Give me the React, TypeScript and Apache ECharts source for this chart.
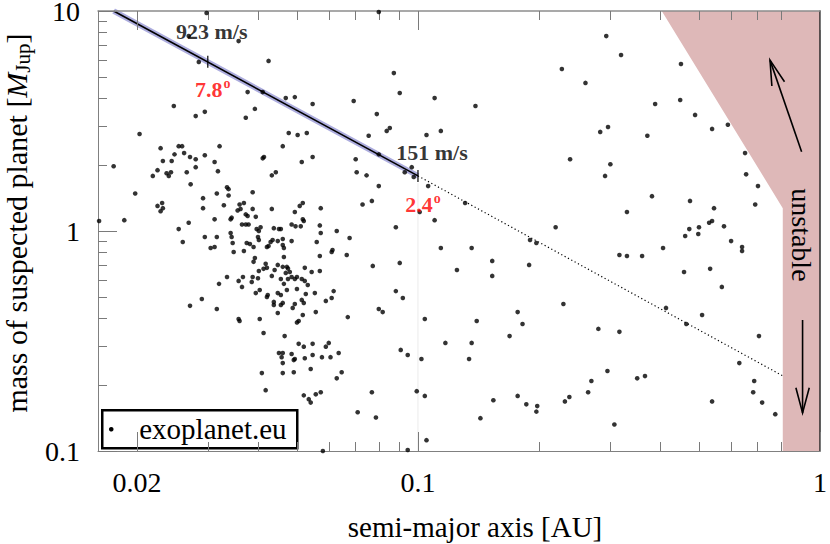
import React, { useEffect, useRef } from "react";
import * as echarts from "echarts";

const SERIF = "'Liberation Serif', 'Times New Roman', serif";

// axis ranges and ticks
const xRange = [0.016, 1];
const yRange = [0.1, 10];
const xMajorTicks = [0.02, 0.1, 1];
const xMinorTicks = [0.03, 0.04, 0.05, 0.06, 0.07, 0.08, 0.09, 0.2, 0.3, 0.4, 0.5, 0.6, 0.7, 0.8];
const yMajorTicks = [0.1, 1, 10];
const yMinorTicks = [0.2, 0.3, 0.4, 0.5, 0.6, 0.7, 0.8, 0.9, 2, 3, 4, 5, 6, 7, 8, 9];
const xTickLabels = ["0.02", "0.1", "1"];
const yTickLabels = ["0.1", "1", "10"];

// radial-velocity detection curve
const rvSolidA = [0.0175, 0.1];
const rvSolidM = [10, 1.78];
const rvDottedA = [0.1, 0.81];
const rvDottedM = [1.78, 0.219];
const rvMarkA = [0.03, 0.1];
const rvMarkM = [5.88, 1.78];
const rvVelocityLabels = ["923 m/s", "151 m/s"];
const rvAngleLabels = ["7.8", "2.4"];
const guideA = [0.1, 0.1];
const guideM = [1.65, 0.1];

// unstable region
const unstableA = [0.404, 0.808, 0.808, 1, 1];
const unstableM = [10, 1.27, 0.1, 0.1, 10];
// arrows: [fromA, fromM, toA, toM]
const arrows = [
  [0.9, 2.29, 0.751, 5.98],
  [0.905, 0.394, 0.905, 0.149],
];
const unstableLabelPos = [0.9, 0.96];
const legendLabel = "exoplanet.eu";

// exoplanet.eu: [semi-major axis AU, mass M_Jup]
const exoplanets: number[][] = [
  [0.0298, 9.79], [0.0269, 7.69], [0.0358, 7.3], [0.0285, 5.87], [0.0425, 5.93], [0.0377, 4.28], [0.0411, 4.28], [0.0247, 3.7], [0.028, 3.33], [0.0295, 3.48],
  [0.0373, 3.27], [0.0393, 3.59], [0.0203, 2.76], [0.0229, 2.38], [0.0254, 2.43], [0.0259, 2.43], [0.0321, 2.43], [0.0175, 1.97], [0.0232, 2.08], [0.0248, 2.23],
  [0.0262, 2.26], [0.0271, 2.17], [0.028, 2.12], [0.0295, 2.21], [0.0312, 2.06], [0.0244, 2.08], [0.0219, 1.78], [0.0225, 1.89], [0.0237, 1.83], [0.0243, 1.85],
  [0.024, 1.78], [0.028, 1.95], [0.0266, 1.85], [0.0318, 1.87], [0.0411, 2.14], [0.0414, 2.17], [0.0433, 1.79], [0.0443, 1.85],
  [0.0799, 9.9], [0.0871, 5.22], [0.0901, 4.24], [0.11, 4.02], [0.139, 3.7], [0.0469, 4.02], [0.0494, 4.06], [0.0547, 3.78], [0.0692, 3.9], [0.079, 3.4],
  [0.0836, 2.85], [0.0851, 2.94], [0.0754, 2.71], [0.105, 2.73], [0.114, 2.85], [0.0477, 2.79], [0.0502, 2.73], [0.0529, 2.79], [0.0461, 2.43], [0.0514, 2.06],
  [0.0547, 2.17], [0.07, 2.12], [0.0799, 2.23], [0.0704, 1.85], [0.0745, 1.79], [0.0927, 1.85], [0.0965, 1.95], [0.0976, 1.76],
  [0.294, 7.69], [0.32, 6.31], [0.228, 5.45], [0.261, 4.71], [0.451, 5.74], [0.389, 3.78], [0.449, 3.94], [0.489, 3.37], [0.539, 2.91], [0.59, 3.04],
  [0.284, 2.82], [0.297, 2.97], [0.372, 2.71], [0.239, 2.12], [0.301, 2.01], [0.292, 1.78], [0.651, 2.26], [0.655, 1.81],
  [0.0161, 1.11], [0.0186, 1.12], [0.0198, 1.48], [0.0272, 1.63], [0.0225, 1.3], [0.0231, 1.34], [0.0229, 1.23], [0.0232, 1.27], [0.0292, 1.41], [0.0292, 1.27],
  [0.0316, 1.48], [0.0335, 1.58], [0.0338, 1.55], [0.0338, 1.45], [0.0388, 1.5], [0.0329, 1.31], [0.036, 1.32], [0.0369, 1.34], [0.0362, 1.26], [0.0388, 1.26],
  [0.0356, 1.24], [0.0373, 1.19], [0.0377, 1.17], [0.0395, 1.16], [0.0342, 1.13], [0.0344, 1.15], [0.0312, 1.13], [0.0433, 1.26], [0.0269, 1.09], [0.0254, 1.02],
  [0.026, 0.891], [0.0295, 0.939], [0.0316, 0.939], [0.0305, 0.837], [0.0312, 0.846], [0.0342, 0.979], [0.0344, 0.939], [0.0346, 0.882], [0.0348, 0.803], [0.0365, 1.07],
  [0.0373, 1.07], [0.0379, 1.07], [0.0397, 1.02], [0.0402, 1.0], [0.0406, 1.04], [0.0438, 1.03], [0.0451, 1.02], [0.0375, 0.882], [0.0382, 0.873], [0.039, 0.846],
  [0.0369, 0.811], [0.04, 0.939], [0.0402, 0.91], [0.0421, 0.846], [0.0425, 0.855], [0.043, 0.891], [0.0435, 0.91], [0.0448, 0.9], [0.0393, 0.754], [0.039, 0.724],
  [0.0418, 0.709], [0.0413, 0.673], [0.0421, 0.68], [0.0402, 0.658], [0.044, 0.665], [0.0448, 0.701], [0.0433, 0.625], [0.0335, 0.618], [0.0358, 0.593], [0.0367, 0.618],
  [0.0365, 0.557], [0.0388, 0.618], [0.04, 0.61], [0.032, 0.575], [0.0386, 0.587], [0.0395, 0.522], [0.0404, 0.539], [0.0421, 0.501], [0.0423, 0.512], [0.0438, 0.476],
  [0.0438, 0.461], [0.0448, 0.522], [0.0448, 0.424], [0.0271, 0.457], [0.029, 0.491], [0.0316, 0.442], [0.0358, 0.398], [0.036, 0.39], [0.0404, 0.398], [0.0413, 0.344],
  [0.0451, 0.279],
  [0.0799, 1.6], [0.0728, 1.32], [0.0768, 1.37], [0.106, 1.6], [0.101, 1.22], [0.11, 1.12], [0.131, 1.34], [0.0881, 1.04], [0.22, 1.04], [0.19, 0.91],
  [0.197, 0.882], [0.114, 0.837], [0.136, 0.837], [0.153, 0.731], [0.153, 0.625], [0.125, 0.665], [0.189, 0.701], [0.0901, 0.716], [0.0772, 0.694], [0.0881, 0.533],
  [0.0917, 0.496], [0.0799, 0.442], [0.0817, 0.428], [0.0669, 0.406], [0.104, 0.398], [0.14, 0.39], [0.177, 0.428], [0.182, 0.378], [0.169, 0.333], [0.117, 0.31],
  [0.136, 0.31], [0.0906, 0.288], [0.0943, 0.273], [0.102, 0.262], [0.134, 0.262],
  [0.0573, 1.27], [0.0517, 1.34], [0.0508, 1.3], [0.0494, 1.22], [0.0517, 1.13], [0.052, 1.11], [0.0485, 1.07], [0.0496, 1.05], [0.0511, 1.05], [0.057, 1.06],
  [0.0573, 0.979], [0.0628, 1.0], [0.0676, 0.929], [0.056, 0.891], [0.0485, 0.9], [0.0456, 1.02], [0.0461, 0.92], [0.0461, 0.864], [0.0464, 0.837], [0.0464, 0.762],
  [0.0613, 0.82], [0.061, 0.803], [0.0665, 0.778], [0.057, 0.77], [0.0461, 0.687], [0.0472, 0.687], [0.0475, 0.675], [0.048, 0.651], [0.0469, 0.645], [0.0523, 0.68],
  [0.0544, 0.651], [0.057, 0.658], [0.0456, 0.605], [0.0475, 0.605], [0.0494, 0.605], [0.0514, 0.605], [0.05, 0.618], [0.0485, 0.618], [0.0523, 0.593], [0.0532, 0.568],
  [0.0464, 0.575], [0.0472, 0.539], [0.05, 0.545], [0.0456, 0.512], [0.0526, 0.517], [0.0554, 0.522], [0.0617, 0.533], [0.061, 0.496], [0.059, 0.481], [0.0461, 0.471],
  [0.0456, 0.461], [0.0514, 0.486], [0.052, 0.471], [0.0494, 0.466], [0.0488, 0.447], [0.0557, 0.428], [0.0517, 0.415], [0.0505, 0.39], [0.05, 0.384], [0.0466, 0.333],
  [0.0505, 0.307], [0.052, 0.298], [0.0547, 0.307], [0.059, 0.298], [0.06, 0.31], [0.0485, 0.276], [0.0461, 0.279], [0.0458, 0.267], [0.0547, 0.273], [0.0577, 0.267],
  [0.0606, 0.267], [0.0635, 0.279], [0.0494, 0.262], [0.0523, 0.264],
  [0.701, 1.6], [0.69, 1.32], [0.382, 1.44], [0.475, 1.37], [0.545, 1.27], [0.331, 1.22], [0.473, 1.02], [0.462, 0.949], [0.5, 1.04], [0.498, 0.969],
  [0.53, 1.09], [0.539, 1.11], [0.577, 1.05], [0.601, 0.9], [0.64, 0.846], [0.64, 0.811], [0.407, 0.837], [0.317, 0.778], [0.331, 0.77], [0.361, 0.77],
  [0.459, 0.651], [0.533, 0.673], [0.57, 0.557], [0.23, 0.466], [0.414, 0.447], [0.465, 0.378], [0.509, 0.415], [0.281, 0.359], [0.317, 0.348], [0.705, 0.333],
  [0.0409, 0.226], [0.0418, 0.189],
  [0.0461, 0.251], [0.0491, 0.259], [0.0461, 0.226], [0.0491, 0.228], [0.0541, 0.236], [0.052, 0.179], [0.0535, 0.172], [0.0541, 0.166], [0.0557, 0.181], [0.0573, 0.185],
  [0.0628, 0.214], [0.0646, 0.228], [0.0708, 0.15], [0.0768, 0.185], [0.0786, 0.142], [0.058, 0.1], [0.0943, 0.101], [0.0993, 0.187], [0.104, 0.178], [0.105, 0.112],
  [0.143, 0.141], [0.154, 0.17], [0.177, 0.178], [0.186, 0.163], [0.198, 0.16], [0.197, 0.151],
  [0.232, 0.168], [0.238, 0.176], [0.265, 0.185], [0.27, 0.208], [0.296, 0.231], [0.351, 0.214], [0.367, 0.219], [0.308, 0.132], [0.539, 0.168], [0.63, 0.251],
  [0.686, 0.208], [0.682, 0.185], [0.718, 0.166], [0.774, 0.147],
];

const fmt = (v: number) => String(Number(v.toPrecision(3)));

function makeAxis(kind: "x" | "y", position: string, opts: any) {
  const range = kind === "x" ? xRange : yRange;
  return {
    type: "log",
    logBase: 10,
    min: range[0],
    max: range[1],
    position,
    z: 5,
    splitLine: { show: false },
    axisLine: { show: false },
    axisLabel: { show: false },
    axisTick: { show: false },
    ...opts,
  };
}

const tickStyle = { color: "#7a7a7a", width: 1 };
const labelStyle = { fontFamily: SERIF, fontSize: 28, color: "#000" };
const titleStyle = { fontFamily: SERIF, fontSize: 29, color: "#000" };
const yTitleStyle = { fontFamily: SERIF, fontSize: 30, color: "#000" };

export default function App() {
  const ref = useRef<HTMLDivElement>(null);
  useEffect(() => {
    if (!ref.current) return;
    const chart = echarts.init(ref.current, null, { renderer: "svg" });
    const line = (a: number[], m: number[]) => a.map((v, i) => [v, m[i]]);

    const option: any = {
      animation: false,
      backgroundColor: "#fff",
      textStyle: { fontFamily: SERIF },
      grid: { left: 98, right: 10, top: 11, bottom: 93, containLabel: false, outerBoundsMode: "none" },
      graphic: [
        {
          type: "group",
          left: 101,
          top: 409,
          z: 10,
          children: [
            {
              type: "rect",
              shape: { x: 0, y: 0, width: 195, height: 38 },
              style: { fill: "rgba(255,255,255,0)", stroke: "#000", lineWidth: 2.5 },
            },
            { type: "circle", shape: { cx: 9, cy: 19, r: 2.3 }, style: { fill: "#000" } },
            {
              type: "text",
              x: 37,
              y: 19,
              style: {
                text: legendLabel,
                fontFamily: SERIF,
                fontSize: 29,
                fill: "#000",
                verticalAlign: "middle",
                align: "left",
              },
            },
          ],
        },
      ],
      xAxis: [
        makeAxis("x", "bottom", {
          axisLine: { show: true, lineStyle: { color: "#808080", width: 1 } },
          axisTick: { show: true, inside: true, length: 19, customValues: xMajorTicks, lineStyle: tickStyle },
          axisLabel: {
            show: true,
            customValues: xMajorTicks,
            margin: 17,
            formatter: (v: number) => xTickLabels[xMajorTicks.findIndex((t) => Math.abs(t - v) / t < 1e-6)] ?? fmt(v),
            ...labelStyle,
          },
          name: "semi-major axis [AU]",
          nameLocation: "middle",
          nameGap: 61,
          nameTextStyle: { ...titleStyle, padding: [0, 0, 0, 32] },
        }),
        makeAxis("x", "bottom", {
          axisTick: { show: true, inside: true, length: 9, customValues: xMinorTicks, lineStyle: tickStyle },
        }),
        makeAxis("x", "top", {
          axisLine: { show: true, lineStyle: { color: "#8c8c8c", width: 1.5 } },
          axisTick: { show: true, inside: true, length: 19, customValues: xMajorTicks, lineStyle: tickStyle },
        }),
        makeAxis("x", "top", {
          axisTick: { show: true, inside: true, length: 9, customValues: xMinorTicks, lineStyle: tickStyle },
        }),
      ],
      yAxis: [
        makeAxis("y", "left", {
          axisLine: { show: true, lineStyle: { color: "#808080", width: 1 } },
          axisTick: { show: true, inside: true, length: 19, customValues: yMajorTicks, lineStyle: tickStyle },
          axisLabel: {
            show: true,
            customValues: yMajorTicks,
            margin: 18,
            lineHeight: 24,
            padding: [6, 0, 0, 0],
            formatter: (v: number) => yTickLabels[yMajorTicks.findIndex((t) => Math.abs(t - v) / t < 1e-6)] ?? fmt(v),
            ...labelStyle,
          },
          name: "{n|mass of suspected planet [}{i|M}{s|Jup}{n|]}",
          nameLocation: "middle",
          nameGap: 65,
          nameRotate: 90,
          nameTextStyle: {
            ...yTitleStyle,
            padding: [0, 0, 0, 16],
            rich: {
              n: { ...yTitleStyle },
              i: { ...yTitleStyle, fontStyle: "italic" },
              s: { fontFamily: SERIF, fontSize: 21, color: "#000", padding: [13, 0, 0, 0] },
            },
          },
        }),
        makeAxis("y", "left", {
          axisTick: { show: true, inside: true, length: 9, customValues: yMinorTicks, lineStyle: tickStyle },
        }),
        makeAxis("y", "right", {
          axisLine: { show: true, lineStyle: { color: "#2a2a2a", width: 1.5 } },
        }),
      ],
      series: [
        {
          type: "custom",
          name: "unstable",
          z: 1,
          silent: true,
          data: [[unstableA[0], unstableM[0]]],
          renderItem: (params: any, api: any) => {
            if (params.dataIndex !== 0) return null;
            const pts = unstableA.map((a, i) => api.coord([a, unstableM[i]]));
            return { type: "polygon", shape: { points: pts }, style: { fill: "#deb8b8" } };
          },
        },
        {
          type: "line",
          name: "guide",
          z: 2,
          silent: true,
          symbol: "none",
          data: line(guideA, guideM),
          lineStyle: { color: "#ebebeb", width: 1 },
        },
        {
          type: "line",
          name: "rvGlow",
          z: 3,
          silent: true,
          symbol: "none",
          data: line(rvSolidA, rvSolidM),
          lineStyle: { color: "#adadde", width: 5.5 },
        },
        {
          type: "line",
          name: "rvSolid",
          z: 4,
          silent: true,
          symbol: "none",
          data: line(rvSolidA, rvSolidM),
          lineStyle: { color: "#000", width: 1.6 },
        },
        {
          type: "line",
          name: "rvDotted",
          z: 4,
          silent: true,
          symbol: "none",
          data: line(rvDottedA, rvDottedM),
          lineStyle: { color: "#000", width: 1.2, type: [1.2, 2.6] },
        },
        {
          type: "scatter",
          name: "exoplanet.eu",
          z: 6,
          symbol: "circle",
          symbolSize: 4.6,
          itemStyle: { color: "#000" },
          data: exoplanets,
        },
        {
          type: "scatter",
          name: "rvMarks",
          z: 7,
          symbol: "rect",
          symbolSize: [1.5, 12],
          itemStyle: { color: "#000" },
          data: rvMarkA.map((a, i) => ({
            value: [a, rvMarkM[i]],
            label: {
              show: true,
              position: "inside",
              offset: i === 0 ? [4, -30] : [14, -23],
              formatter: rvVelocityLabels[i],
              fontFamily: SERIF,
              fontSize: 22,
              fontWeight: "bold",
              color: "#000",
            },
          })),
        },
        {
          type: "scatter",
          name: "rvAngles",
          z: 7,
          symbol: "circle",
          symbolSize: 1,
          itemStyle: { color: "rgba(0,0,0,0)" },
          data: rvMarkA.map((a, i) => ({
            value: [a, rvMarkM[i]],
            label: {
              show: true,
              position: "inside",
              offset: i === 0 ? [5, 28] : [5, 29],
              formatter: `{n|${rvAngleLabels[i]}}{s|o}`,
              rich: {
                n: { fontFamily: SERIF, fontSize: 22, fontWeight: "bold", color: "#f00" },
                s: { fontFamily: SERIF, fontSize: 14, fontWeight: "bold", color: "#f00", padding: [0, 0, 12, 1] },
              },
            },
          })),
        },
        {
          type: "custom",
          name: "arrows",
          z: 8,
          silent: true,
          data: arrows,
          encode: { x: [0, 2], y: [1, 3] },
          renderItem: (params: any, api: any) => {
            const p0 = api.coord([api.value(0), api.value(1)]);
            const p1 = api.coord([api.value(2), api.value(3)]);
            const ang = Math.atan2(p1[1] - p0[1], p1[0] - p0[0]);
            const len = 26;
            const spread = 0.26;
            const h1 = [p1[0] - len * Math.cos(ang - spread), p1[1] - len * Math.sin(ang - spread)];
            const h2 = [p1[0] - len * Math.cos(ang + spread), p1[1] - len * Math.sin(ang + spread)];
            const st = { stroke: "#000", lineWidth: 1.6, fill: null };
            return {
              type: "group",
              children: [
                { type: "line", shape: { x1: p0[0], y1: p0[1], x2: p1[0], y2: p1[1] }, style: st },
                { type: "polyline", shape: { points: [h1, p1, h2] }, style: st },
              ],
            };
          },
        },
        {
          type: "custom",
          name: "unstableText",
          z: 8,
          silent: true,
          data: [unstableLabelPos],
          renderItem: (params: any, api: any) => {
            const p = api.coord([api.value(0), api.value(1)]);
            return {
              type: "text",
              x: p[0],
              y: p[1],
              rotation: -Math.PI / 2,
              style: {
                text: "unstable",
                fontFamily: SERIF,
                fontSize: 28,
                fill: "#000",
                align: "center",
                verticalAlign: "middle",
              },
            };
          },
        },
      ],
    };
    chart.setOption(option);
    return () => chart.dispose();
  }, []);
  return <div ref={ref} style={{ width: 830, height: 544, position: "absolute", left: 0, top: 0 }} />;
}
